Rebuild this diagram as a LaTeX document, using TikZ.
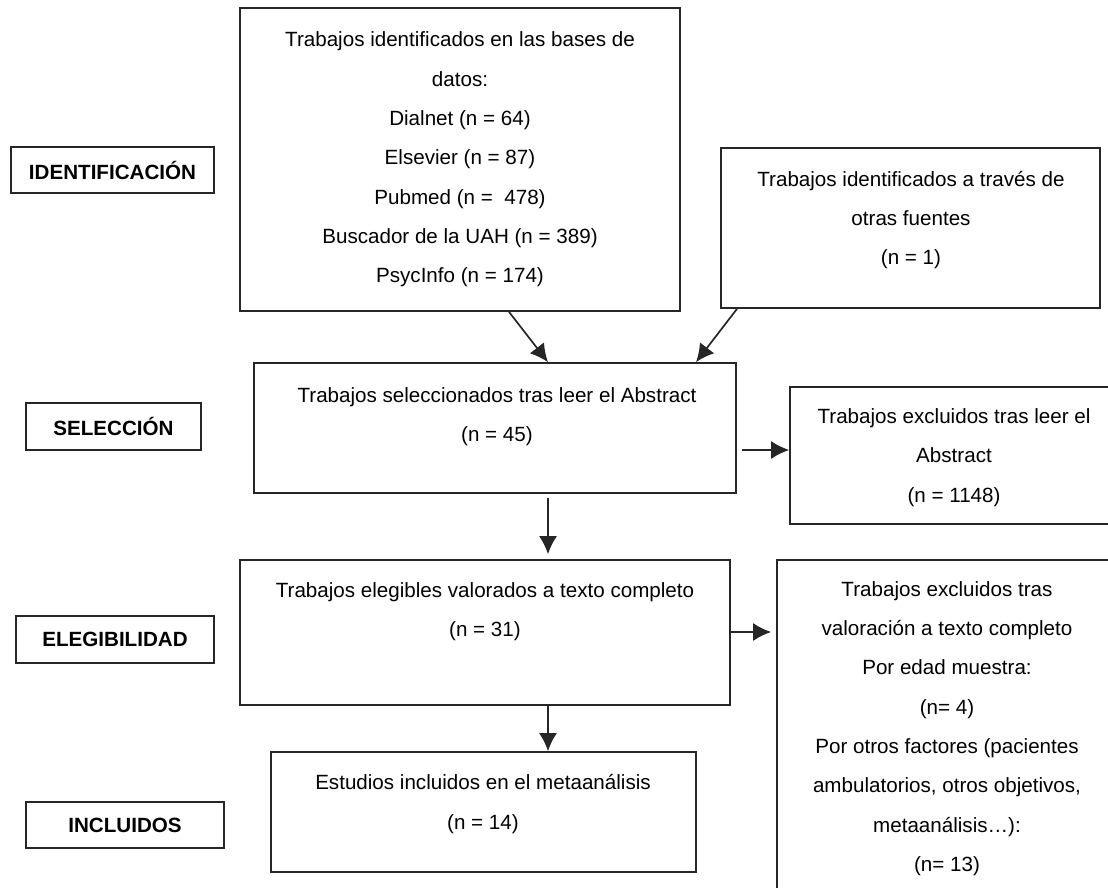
\documentclass[tikz,border=0pt]{standalone}
\usepackage{fontspec}
\setmainfont{Liberation Sans}
\usetikzlibrary{arrows.meta}
\begin{document}
\begin{tikzpicture}[x=1pt,y=-1pt,
  box/.style={draw=black!85, line width=1.7pt, inner sep=0pt},
  txt/.style={align=center, inner sep=0pt, font=\fontsize{20.6}{39.3}\selectfont},
  lbl/.style={align=center, inner sep=0pt, font=\fontsize{20.6}{24}\selectfont\bfseries},
  arr/.style={line width=1.7pt, draw=black!85, -{Latex[length=18pt,width=18pt]}}]
\useasboundingbox (0,0) rectangle (1108,887);
\clip (0,0) rectangle (1108,887);
% main boxes
\node[box, minimum width=440pt, minimum height=303pt] (idbox) at (460,159.5) {};
\node[box, minimum width=379pt, minimum height=160pt] (other) at (910.5,228) {};
\node[box, minimum width=482pt, minimum height=130pt] (sel) at (495,428) {};
\node[box, minimum width=330pt, minimum height=137pt] (exc1) at (955,455.5) {};
\node[box, minimum width=490pt, minimum height=145pt] (elig) at (485,632.5) {};
\node[box, minimum width=341pt, minimum height=360pt] (exc2) at (947.5,740) {};
\node[box, minimum width=425pt, minimum height=120pt] (incl) at (483.5,812) {};
% label boxes
\node[box, minimum width=203pt, minimum height=46pt] (lid) at (112.5,170) {};
\node[box, minimum width=175pt, minimum height=47pt] (lsel) at (113.5,426.5) {};
\node[box, minimum width=198pt, minimum height=47pt] (lelig) at (115,639.5) {};
\node[box, minimum width=198pt, minimum height=46pt] (linc) at (125,825) {};
\node[lbl] (tlid) at (lid) {IDENTIFICACIÓN};
\node[lbl] (tlsel) at (lsel) {SELECCIÓN};
\node[lbl] (tlelig) at (lelig) {ELEGIBILIDAD};
\node[lbl] (tlinc) at (linc) {INCLUIDOS};
% texts
\node[txt] (tid) at (460,159.5) {Trabajos identificados en las bases de\\datos:\\Dialnet (n = 64)\\Elsevier (n = 87)\\Pubmed (n =\ \ 478)\\Buscador de la UAH (n = 389)\\PsycInfo (n = 174)};
\node[txt] (tother) at (911,220) {Trabajos identificados a través de\\otras fuentes\\(n = 1)};
\node[txt] (tsel) at (497,417) {Trabajos seleccionados tras leer el Abstract\\(n = 45)};
\node[txt] (texc1) at (954,457.5) {Trabajos excluidos tras leer el\\Abstract\\(n = 1148)};
\node[txt] (telig) at (485,612) {Trabajos elegibles valorados a texto completo\\(n = 31)};
\node[txt] (texc2) at (947,728.5) {Trabajos excluidos tras\\valoración a texto completo\\Por edad muestra:\\(n= 4)\\Por otros factores (pacientes\\ambulatorios, otros objetivos,\\metaanálisis…):\\(n= 13)};
\node[txt] (tincl) at (483,804) {Estudios incluidos en el metaanálisis\\(n = 14)};
% connectors
\draw[arr] ([xshift=49pt]idbox.south) -- ([xshift=53pt]sel.north);
\draw[arr] ([xshift=-173.5pt]other.south) -- ([xshift=201pt]sel.north);
\draw[arr] ([xshift=5pt,yshift=-22pt]sel.east) -- ([yshift=-22pt]sel.east -| exc1.west);
\draw[arr] ([xshift=53pt,yshift=-4pt]sel.south) -- ([xshift=63pt,yshift=5pt]elig.north);
\draw[arr] ([yshift=0.5pt]elig.east) -- ([xshift=-5pt,yshift=0.5pt]elig.east -| exc2.west);
\draw[arr] ([xshift=63pt]elig.south) -- ([xshift=64.5pt]incl.north);
\end{tikzpicture}
\end{document}
